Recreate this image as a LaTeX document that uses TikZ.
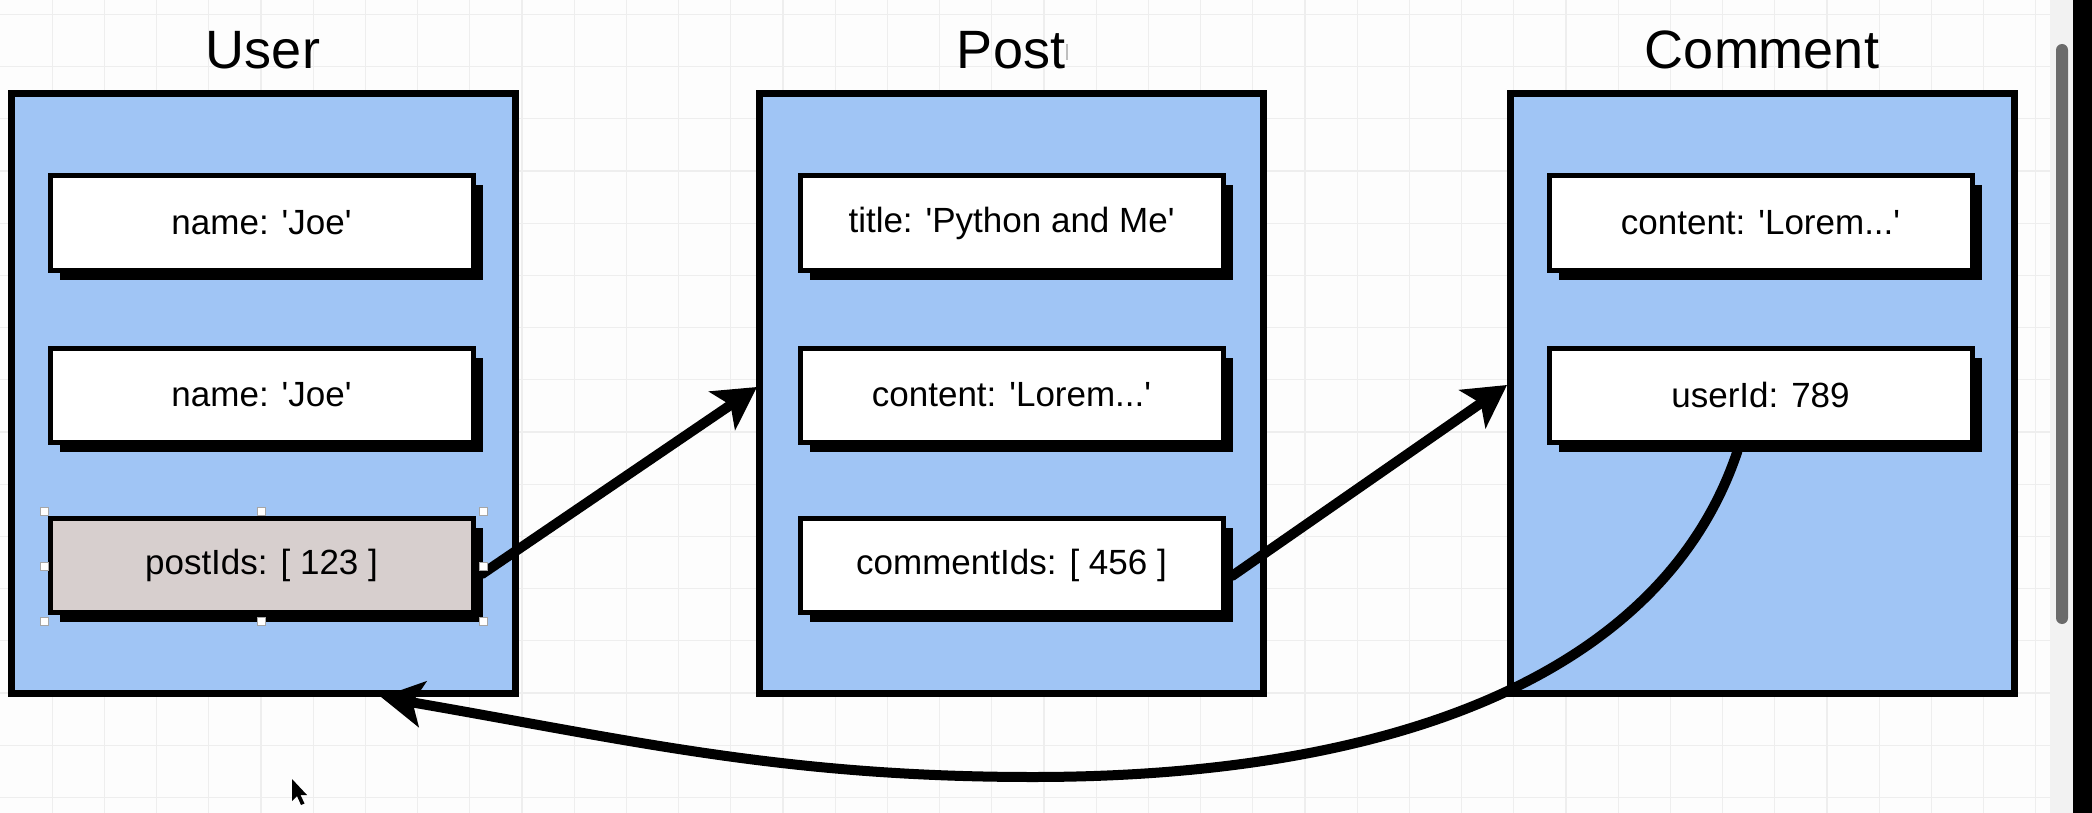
\documentclass[tikz,border=0pt]{standalone}
\usepackage{fontspec}
\setmainfont{Liberation Sans}
\usetikzlibrary{arrows.meta,calc,shadows}
\definecolor{boxblue}{RGB}{160,197,245}
\definecolor{selfill}{RGB}{215,207,206}
\definecolor{gridc}{RGB}{238,238,238}
\definecolor{bgc}{RGB}{253,253,253}
\definecolor{thumbc}{RGB}{107,107,107}
\definecolor{trackc}{RGB}{242,242,242}
\newcommand\myq{\textquotesingle}
\begin{document}
\begin{tikzpicture}[x=1pt,y=-1pt,
  entity/.style={draw=black, line width=7pt, fill=boxblue, rectangle, inner sep=0pt, outer sep=0pt, minimum width=504pt, minimum height=599pt},
  field/.style={draw=black, line width=5pt, fill=white, rectangle, inner sep=0pt, outer sep=0pt, minimum width=423pt, minimum height=94pt, font=\fontsize{35}{40}\selectfont, drop shadow={shadow xshift=9.5pt, shadow yshift=-9.5pt, fill=black, opacity=1}},
  titletext/.style={font=\fontsize{54}{60}\selectfont, anchor=base, inner sep=0pt},
  conn/.style={line width=10pt, line cap=round, -{Stealth[length=42pt,width=46pt,inset=10pt]}},
  handle/.style={rectangle, draw=gray!70, fill=white, line width=1pt, minimum size=8pt, inner sep=0pt},
  gridline/.style={draw=gridc, line width=1.3pt}]
\useasboundingbox (0,0) rectangle (2092,813);
\fill[bgc] (0,0) rectangle (2092,813);
\foreach \i in {1,...,39} \draw[gridline] ({\i*52.2},0) -- ({\i*52.2},813);
\foreach \j in {0,...,15} \draw[gridline] (0,{14.4+\j*52.2}) -- (2050,{14.4+\j*52.2});
% scrollbar and window edge
\fill[trackc] (2050,0) rectangle (2073,813);
\fill[thumbc, rounded corners=6pt] (2056,44) rectangle (2068,624);
\fill[black] (2073,0) rectangle (2092,813);
% titles
\node[titletext] (usertitle) at (263,69) {User};
\node[titletext] (posttitle) at (1011,69) {Post};
\node[titletext] (commenttitle) at (1762,69) {Comment};
\draw[gray!50, line width=2pt] (1067,44) -- (1067,60);
% entity boxes
\node[entity] (user) at (263,393.5) {};
\node[entity] (post) at (1011,393.5) {};
\node[entity] (comment) at (1762,393.5) {};
% fields
\node[field] (uname1) at (261.5,223) {name: \myq Joe\myq};
\node[field] (uname2) at (261.5,395) {name: \myq Joe\myq};
\node[field, fill=selfill] (postids) at (261.5,565) {postIds: [ 123 ]};
\node[field] (ptitle) at (1011.5,223) {title: \myq Python and Me\myq};
\node[field] (pcontent) at (1011.5,395) {content: \myq Lorem...\myq};
\node[field] (commentids) at (1011.5,565) {commentIds: [ 456 ]};
\node[field] (ccontent) at (1760.5,223) {content: \myq Lorem...\myq};
\node[field] (userid) at (1760.5,395) {userId: 789};
% connectors
\draw[conn] ($(postids.east)+(9,9)$) -- ($(post.north west)+(-2,293)$);
\draw[conn] ($(commentids.east)+(9,11)$) -- ($(comment.north west)+(-3,291)$);
\coordinate (low) at (1033,777);
\draw[conn] ($(userid.south)+(-23,9)$) .. controls (1661,680) and (1383,777) .. (low)
  .. controls (783,777) and (630,740) .. ($(user.south west)+(370,4)$);
% selection handles
\node[handle] (h1) at ($(postids.north west)+(-6,-7)$) {};
\node[handle] (h2) at ($(postids.north)+(0,-7)$) {};
\node[handle] (h3) at ($(postids.north east)+(10,-7)$) {};
\node[handle] (h4) at ($(postids.west)+(-6,1)$) {};
\node[handle] (h5) at ($(postids.east)+(10,1)$) {};
\node[handle] (h6) at ($(postids.south west)+(-6,9)$) {};
\node[handle] (h7) at ($(postids.south)+(0,9)$) {};
\node[handle] (h8) at ($(postids.south east)+(10,9)$) {};
% mouse pointer
\fill[black] (292,779) -- (292,801) -- (297,796) -- (301,805) -- (304.5,803.5) -- (300.5,795) -- (307,795) -- cycle;
\end{tikzpicture}
\end{document}
